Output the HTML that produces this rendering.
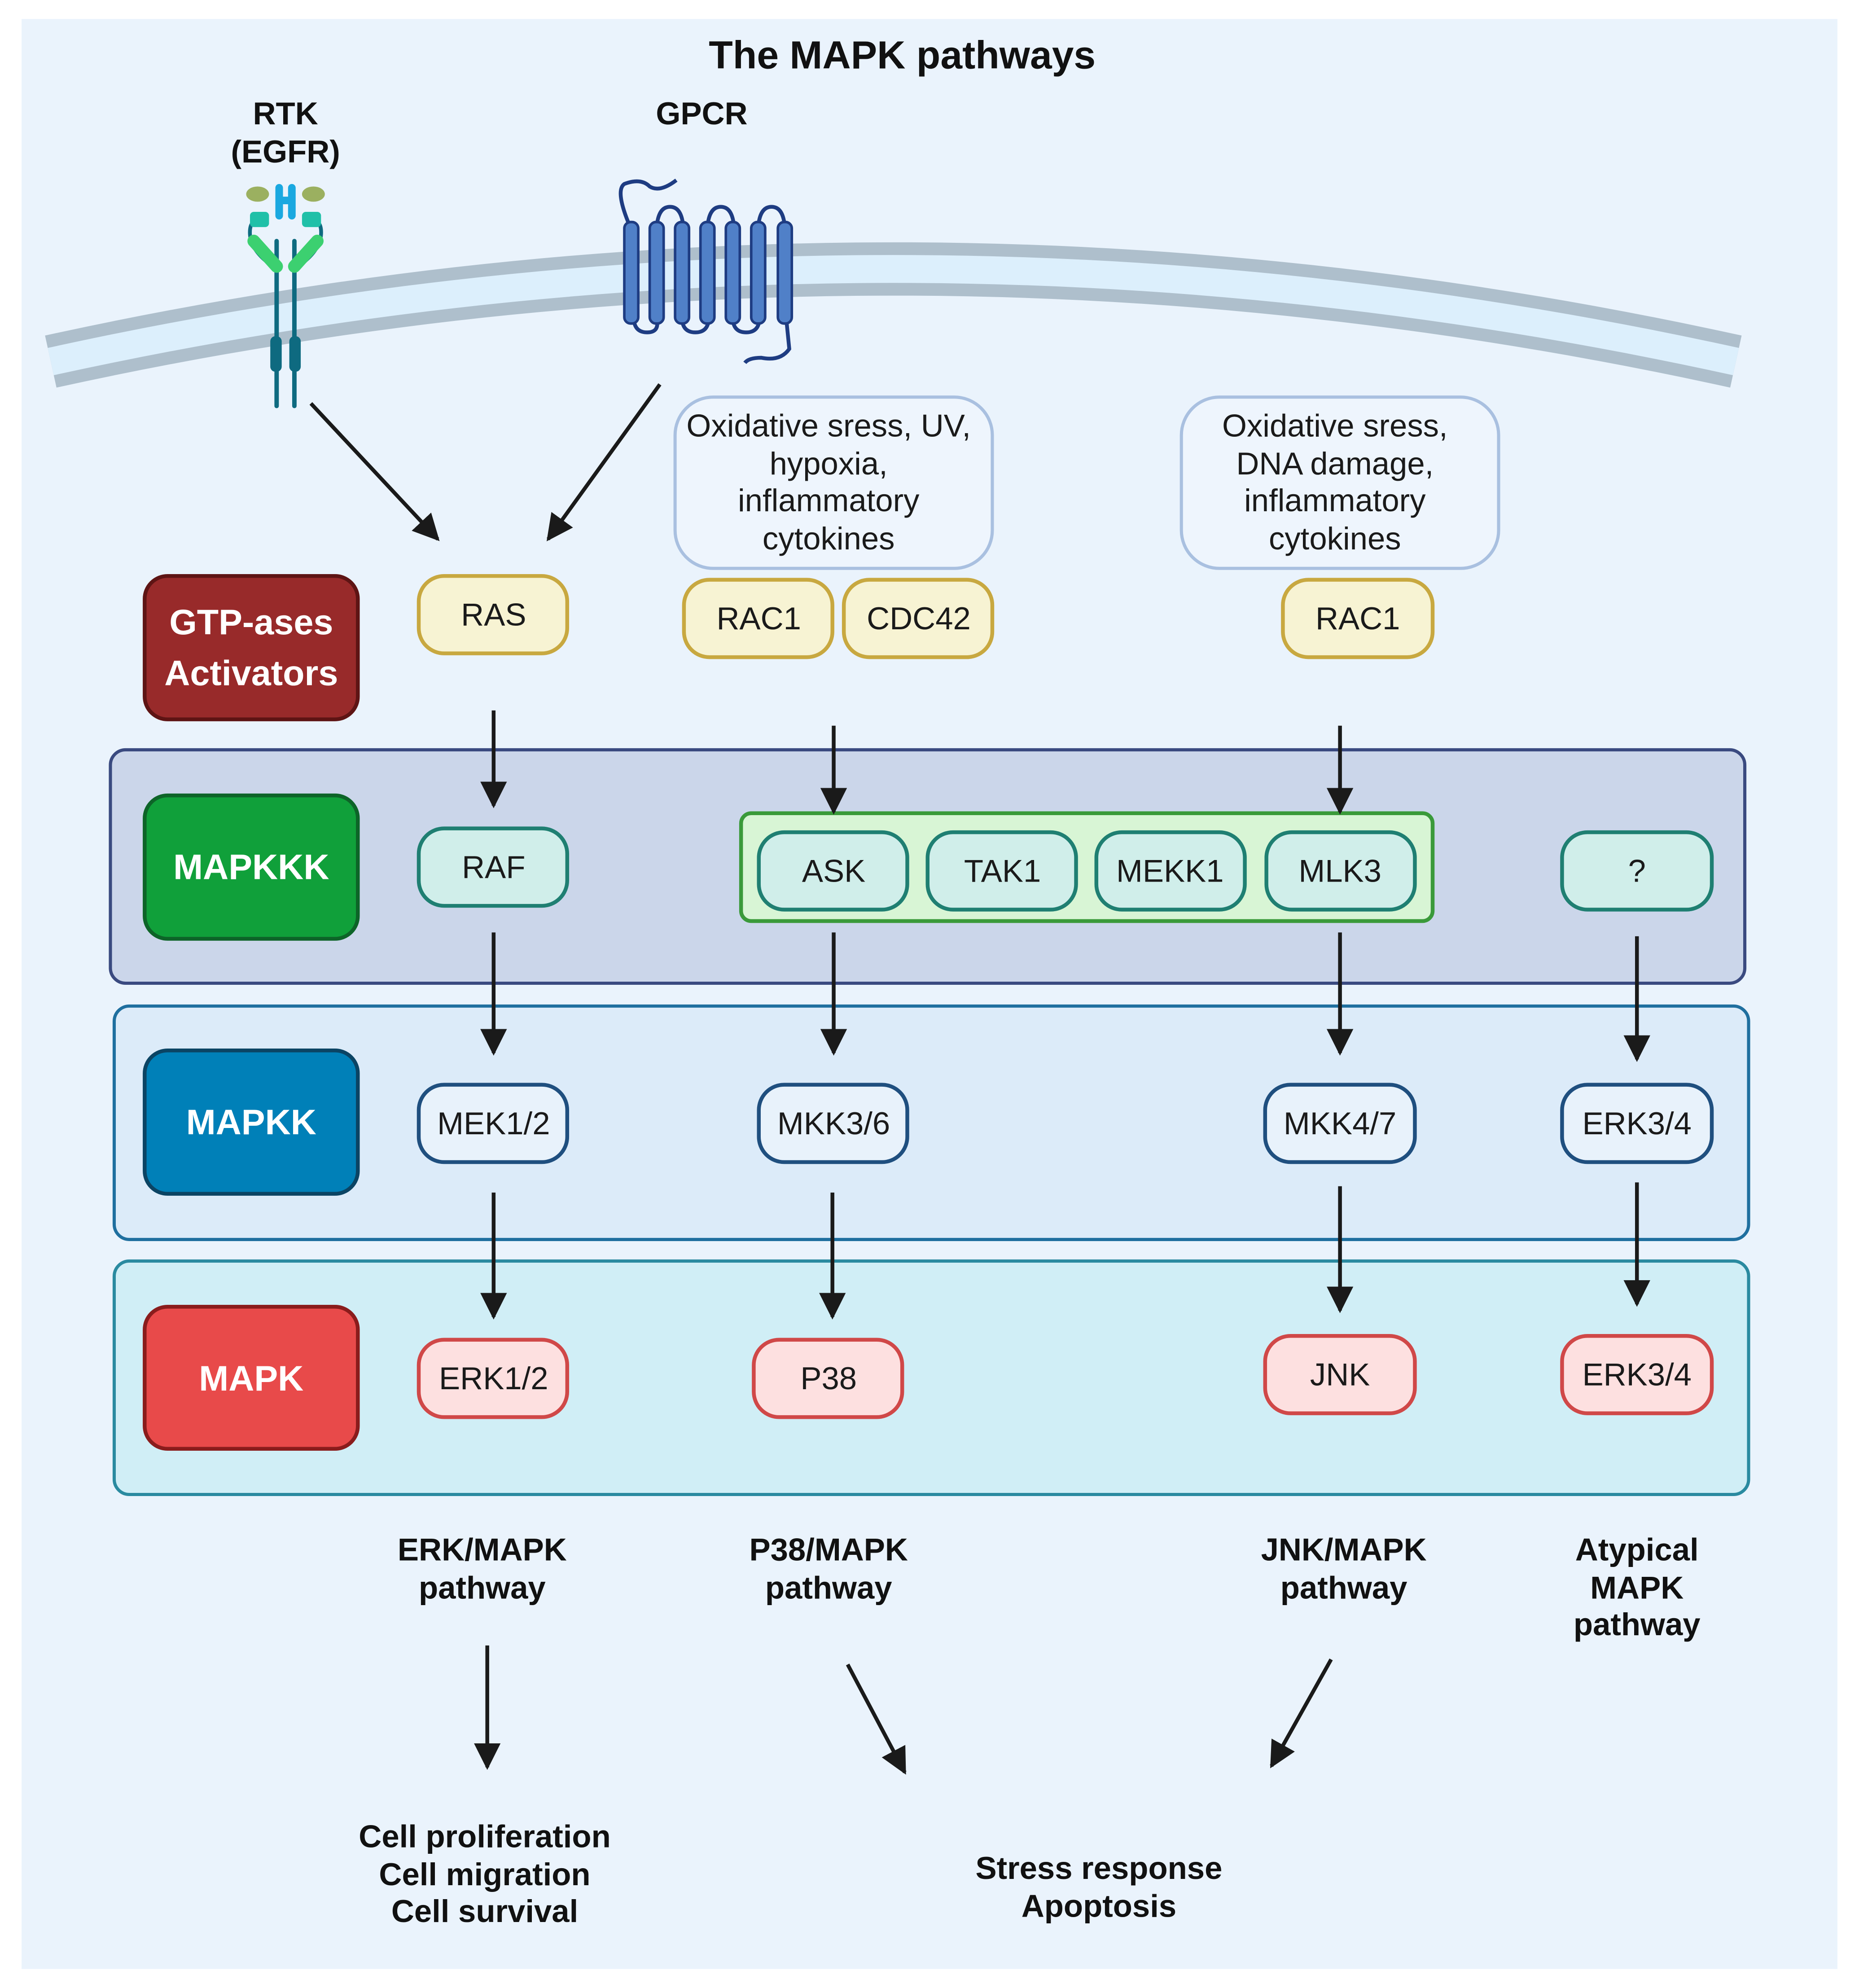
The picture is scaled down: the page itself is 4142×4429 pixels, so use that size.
<!DOCTYPE html>
<html><head><meta charset="utf-8"><style>
html,body{margin:0;padding:0;background:#fff;}
svg{display:block;}
text{font-family:"Liberation Sans",sans-serif;}
.b{font-weight:bold;fill:#111;font-size:25px;text-anchor:middle;}
.n{font-size:25px;fill:#1a1a1a;text-anchor:middle;}
.w{font-weight:bold;fill:#fff;font-size:28px;text-anchor:middle;}
</style></head><body>
<svg width="4142" height="4429" viewBox="0 0 1465 1567" preserveAspectRatio="none" xmlns="http://www.w3.org/2000/svg">
<defs>
<marker id="a" viewBox="0 0 10 10" refX="9" refY="5" markerWidth="7" markerHeight="7" orient="auto"><path d="M0,0 L10,5 L0,10 z" fill="#1a1a1a"/></marker>
</defs>
<rect x="0" y="0" width="1465" height="1567" fill="#fff"/>
<rect x="17" y="15" width="1431" height="1537" fill="#eaf3fc"/>
<text x="711" y="54" class="b" style="font-size:31px">The MAPK pathways</text>
<text x="225" y="98" class="b">RTK</text>
<text x="225" y="128" class="b">(EGFR)</text>
<text x="553" y="98" class="b">GPCR</text>
<path d="M40,285 Q704,139 1368,285" fill="none" stroke="#aebfcc" stroke-width="42"/>
<path d="M40,285 Q704,139 1368,285" fill="none" stroke="#dceffc" stroke-width="22"/>
<g stroke-linecap="round">
<path d="M218,190 L218,320 M232,190 L232,320" stroke="#0e6a80" stroke-width="3.5" fill="none"/>
<rect x="213" y="265" width="9" height="28" rx="4" fill="#0e6a80"/>
<rect x="228" y="265" width="9" height="28" rx="4" fill="#0e6a80"/>
<path d="M210,175 Q196,170 197,185 Q198,198 215,210 M240,175 Q254,170 253,185 Q252,198 235,210" stroke="#0e6a80" stroke-width="3" fill="none"/>
<path d="M200,190 L218,210 M250,190 L232,210" stroke="#3cd070" stroke-width="10"/>
<rect x="197" y="167" width="15" height="12" rx="3" fill="#20c0a8"/>
<rect x="238" y="167" width="15" height="12" rx="3" fill="#20c0a8"/>
<path d="M220,148 L220,170 M230,148 L230,170 M220,158 L230,158" stroke="#1aa8e0" stroke-width="6"/>
<ellipse cx="203" cy="153" rx="9" ry="6" fill="#9bb060"/>
<ellipse cx="247" cy="153" rx="9" ry="6" fill="#9bb060"/>
</g>
<g>
<path d="M495,175 Q485,150 492,145 Q505,140 512,147 Q520,152 533,142 M500,255 Q502,262 510,262 Q518,262 518,255 M538,255 Q540,262 548,262 Q556,262 558,255 M578,255 Q580,262 588,262 Q596,262 598,255 M518,175 Q520,163 528,163 Q536,163 538,175 M558,175 Q560,163 568,163 Q576,163 578,175 M598,175 Q600,163 608,163 Q616,163 618,175 M620,255 L622,275 Q615,285 600,282 Q590,282 587,286" stroke="#1e3c82" stroke-width="3" fill="none"/>
<g fill="#5080c8" stroke="#1e3c82" stroke-width="2">
<rect x="492" y="175" width="11" height="80" rx="5"/><rect x="512" y="175" width="11" height="80" rx="5"/><rect x="532" y="175" width="11" height="80" rx="5"/><rect x="552" y="175" width="11" height="80" rx="5"/><rect x="572" y="175" width="11" height="80" rx="5"/><rect x="592" y="175" width="11" height="80" rx="5"/><rect x="613" y="175" width="11" height="80" rx="5"/>
</g></g>
<rect x="532" y="313" width="250" height="135" rx="30" fill="#eef5fd" stroke="#a9c0e0" stroke-width="2.5"/>
<text class="n" x="653" y="344">Oxidative sress, UV,</text>
<text class="n" x="653" y="374">hypoxia,</text>
<text class="n" x="653" y="403">inflammatory</text>
<text class="n" x="653" y="433">cytokines</text>
<rect x="931" y="313" width="250" height="135" rx="30" fill="#eef5fd" stroke="#a9c0e0" stroke-width="2.5"/>
<text class="n" x="1052" y="344">Oxidative sress,</text>
<text class="n" x="1052" y="374">DNA damage,</text>
<text class="n" x="1052" y="403">inflammatory</text>
<text class="n" x="1052" y="433">cytokines</text>
<rect x="114" y="454" width="168" height="113" rx="18" fill="#982a2a" stroke="#5e1414" stroke-width="3"/>
<text class="w" x="198" y="500">GTP-ases</text>
<text class="w" x="198" y="540">Activators</text>
<g fill="#f7f3d3" stroke="#c8a840" stroke-width="3">
<rect x="330" y="454" width="117" height="61" rx="20"/>
<rect x="539" y="457" width="117" height="61" rx="20"/>
<rect x="665" y="457" width="117" height="61" rx="20"/>
<rect x="1011" y="457" width="118" height="61" rx="20"/>
</g>
<text class="n" x="389" y="493">RAS</text>
<text class="n" x="598" y="496">RAC1</text>
<text class="n" x="724" y="496">CDC42</text>
<text class="n" x="1070" y="496">RAC1</text>
<rect x="87" y="591" width="1288" height="184" rx="12" fill="#cbd6ea" stroke="#3a4a80" stroke-width="2.5"/>
<rect x="114" y="627" width="168" height="113" rx="18" fill="#10a03a" stroke="#0d6428" stroke-width="3"/>
<text class="w" x="198" y="693">MAPKKK</text>
<rect x="584" y="641" width="545" height="85" rx="8" fill="#d8f5d5" stroke="#3a9a3a" stroke-width="3"/>
<g fill="#d0eeea" stroke="#1f7f72" stroke-width="3">
<rect x="330" y="653" width="117" height="61" rx="20"/>
<rect x="598" y="656" width="117" height="61" rx="20"/>
<rect x="731" y="656" width="117" height="61" rx="20"/>
<rect x="864" y="656" width="117" height="61" rx="20"/>
<rect x="998" y="656" width="117" height="61" rx="20"/>
<rect x="1231" y="656" width="118" height="61" rx="20"/>
</g>
<text class="n" x="389" y="692">RAF</text>
<text class="n" x="657" y="695">ASK</text>
<text class="n" x="790" y="695">TAK1</text>
<text class="n" x="922" y="695">MEKK1</text>
<text class="n" x="1056" y="695">MLK3</text>
<text class="n" x="1290" y="695">?</text>
<rect x="90" y="793" width="1288" height="184" rx="12" fill="#dcebf9" stroke="#1f6f9f" stroke-width="2.5"/>
<rect x="114" y="828" width="168" height="113" rx="18" fill="#0080b8" stroke="#0b4464" stroke-width="3"/>
<text class="w" x="198" y="894">MAPKK</text>
<g fill="#e8f2fb" stroke="#1f4f7f" stroke-width="3">
<rect x="330" y="855" width="117" height="61" rx="20"/>
<rect x="598" y="855" width="117" height="61" rx="20"/>
<rect x="997" y="855" width="118" height="61" rx="20"/>
<rect x="1231" y="855" width="118" height="61" rx="20"/>
</g>
<text class="n" x="389" y="894">MEK1/2</text>
<text class="n" x="657" y="894">MKK3/6</text>
<text class="n" x="1056" y="894">MKK4/7</text>
<text class="n" x="1290" y="894">ERK3/4</text>
<rect x="90" y="994" width="1288" height="184" rx="12" fill="#d0eef6" stroke="#2a8aa0" stroke-width="2.5"/>
<rect x="114" y="1030" width="168" height="112" rx="18" fill="#e84a4a" stroke="#8a1c1c" stroke-width="3"/>
<text class="w" x="198" y="1096">MAPK</text>
<g fill="#fde0e0" stroke="#d04848" stroke-width="3">
<rect x="330" y="1056" width="117" height="61" rx="20"/>
<rect x="594" y="1056" width="117" height="61" rx="20"/>
<rect x="997" y="1053" width="118" height="61" rx="20"/>
<rect x="1231" y="1053" width="118" height="61" rx="20"/>
</g>
<text class="n" x="389" y="1095">ERK1/2</text>
<text class="n" x="653" y="1095">P38</text>
<text class="n" x="1056" y="1092">JNK</text>
<text class="n" x="1290" y="1092">ERK3/4</text>
<g stroke="#1a1a1a" stroke-width="3" marker-end="url(#a)" fill="none">
<line x1="245" y1="318" x2="345" y2="425"/>
<line x1="520" y1="303" x2="432" y2="425"/>
<line x1="389" y1="560" x2="389" y2="635"/>
<line x1="657" y1="572" x2="657" y2="640"/>
<line x1="1056" y1="572" x2="1056" y2="640"/>
<line x1="389" y1="735" x2="389" y2="830"/>
<line x1="657" y1="735" x2="657" y2="830"/>
<line x1="1056" y1="735" x2="1056" y2="830"/>
<line x1="1290" y1="738" x2="1290" y2="835"/>
<line x1="389" y1="940" x2="389" y2="1038"/>
<line x1="656" y1="940" x2="656" y2="1038"/>
<line x1="1056" y1="935" x2="1056" y2="1033"/>
<line x1="1290" y1="932" x2="1290" y2="1028"/>
<line x1="384" y1="1297" x2="384" y2="1393"/>
<line x1="668" y1="1312" x2="713" y2="1397"/>
<line x1="1049" y1="1308" x2="1002" y2="1392"/>
</g>
<text class="b" x="380" y="1230">ERK/MAPK</text><text class="b" x="380" y="1260">pathway</text>
<text class="b" x="653" y="1230">P38/MAPK</text><text class="b" x="653" y="1260">pathway</text>
<text class="b" x="1059" y="1230">JNK/MAPK</text><text class="b" x="1059" y="1260">pathway</text>
<text class="b" x="1290" y="1230">Atypical</text><text class="b" x="1290" y="1260">MAPK</text><text class="b" x="1290" y="1289">pathway</text>
<text class="b" x="382" y="1456">Cell proliferation</text>
<text class="b" x="382" y="1486">Cell migration</text>
<text class="b" x="382" y="1515">Cell survival</text>
<text class="b" x="866" y="1481">Stress response</text>
<text class="b" x="866" y="1511">Apoptosis</text>
</svg>
</body></html>
